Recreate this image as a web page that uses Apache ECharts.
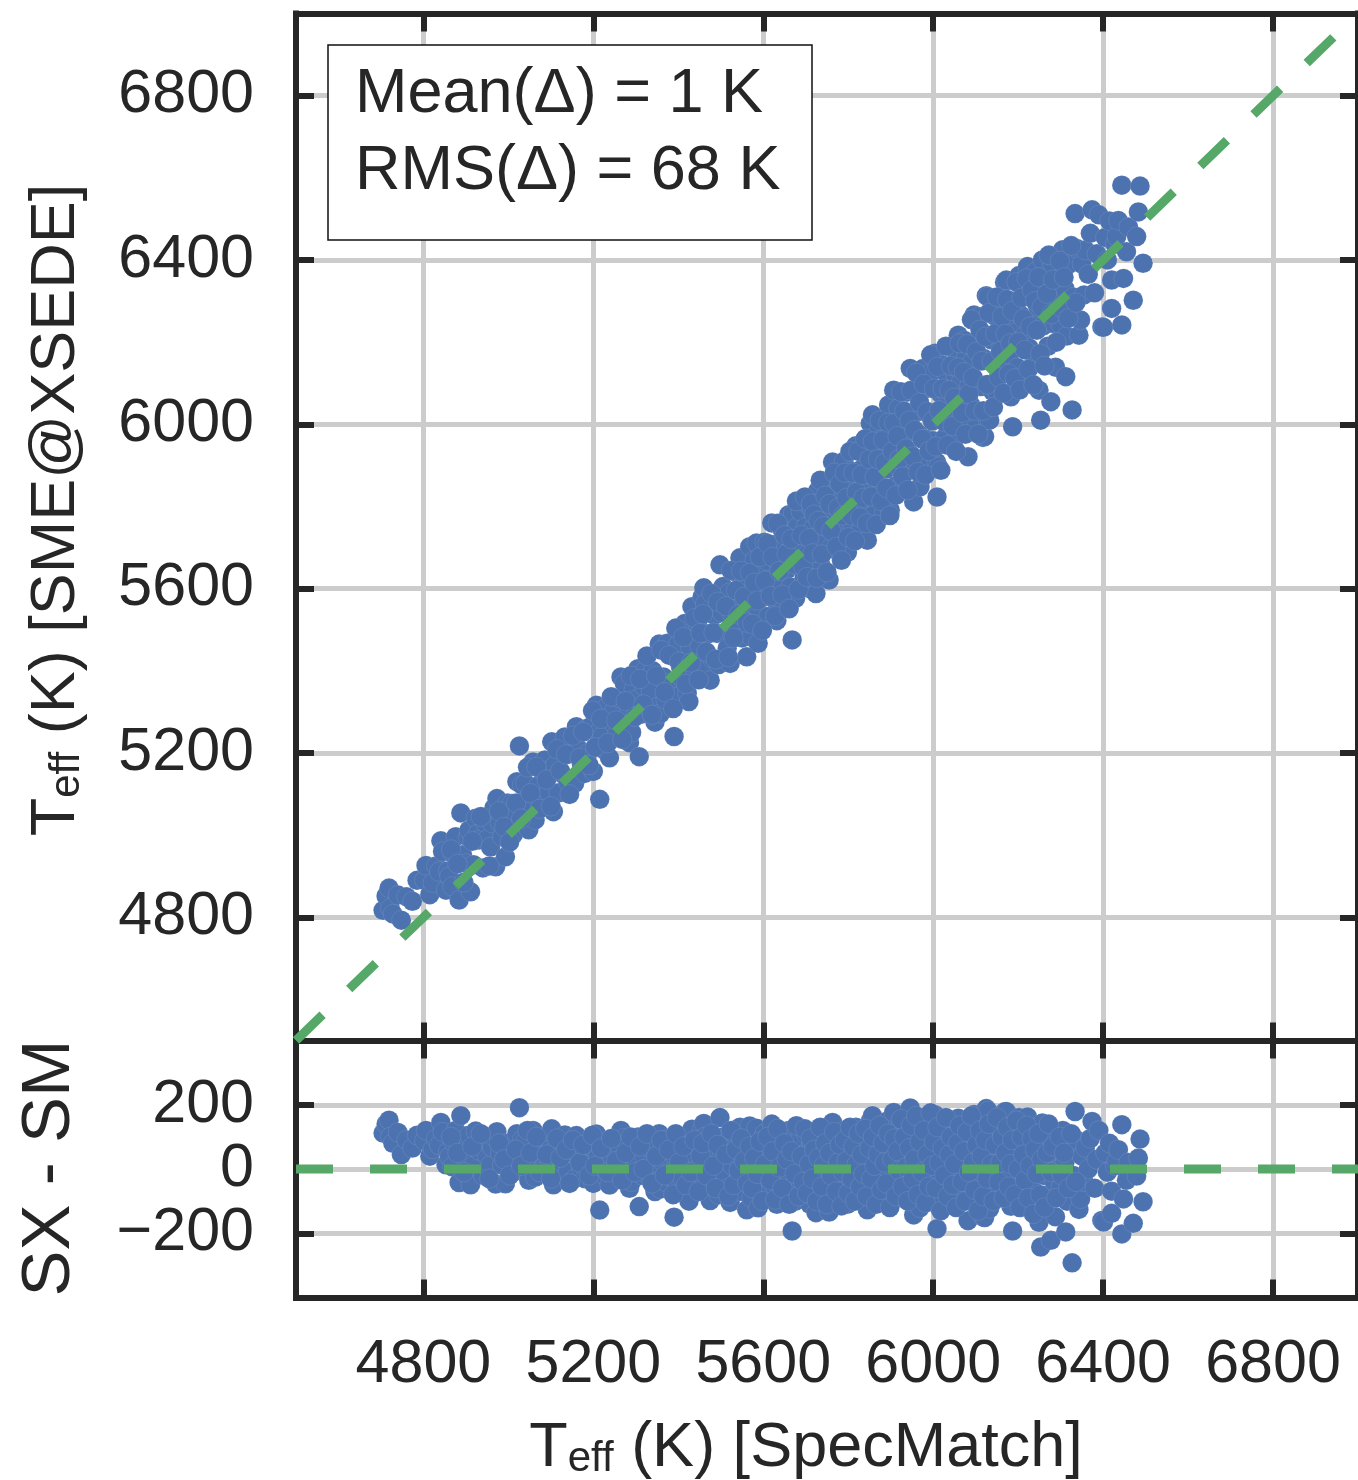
<!DOCTYPE html>
<html><head><meta charset="utf-8">
<script src="https://cdn.jsdelivr.net/npm/echarts@6/dist/echarts.min.js"></script>
<style>html,body{margin:0;padding:0;background:#fff}#c{width:1358px;height:1480px}</style>
</head><body><div id="c"></div>
<script>
// ---------------- data ----------------
const xTicks = [4800, 5200, 5600, 6000, 6400, 6800];
const yTicksTop = [4800, 5200, 5600, 6000, 6400, 6800];
const yTicksBottom = [-200, 0, 200];
const teffRange = [4500, 7000];
const residualRange = [-400, 400];
const identityLine = [4500, 7000];
const zeroLine = [0, 0];
const statLines = ['Mean(\u0394) = 1 K', 'RMS(\u0394) = 68 K'];
const xTitle = 'T_eff (K) [SpecMatch]';
const yTitleTop = 'T_eff (K) [SME@XSEDE]';
const yTitleBottom = 'SX - SM';
// [Teff SpecMatch, Teff SME@XSEDE - Teff SpecMatch]
const teffSmAndDelta = [
[4705,112],[4712,140],[4719,152],[4722,100],[4728,80],[4740,114],[4748,45],[4760,90],[4774,65],[4785,105],
[4802,88],[4806,120],[4815,40],[4822,62],[4830,95],[4837,74],[4841,145],[4845,115],[4853,13],[4858,55],
[4861,38],[4868,7],[4870,85],[4876,120],[4884,-42],[4888,166],[4892,60],[4900,31],[4905,90],[4907,105],
[4911,-49],[4918,10],[4923,118],[4928,75],[4931,57],[4940,-20],[4945,85],[4950,40],[4958,13],[4962,67],
[4966,100],[4970,-47],[4973,116],[4980,50],[4985,11],[4993,-46],[4998,80],
[5008,69],[5012,-10],[5015,30],[5020,110],[5026,191],[5032,90],[5036,45],[5040,86],[5048,-35],[5055,22],
[5058,120],[5063,-26],[5070,50],[5078,80],[5082,5],[5086,97],[5095,10],[5098,60],[5102,125],[5106,-49],
[5110,60],[5118,-15],[5125,25],[5128,85],[5133,106],[5140,-10],[5148,50],[5156,-30],[5160,104],[5165,45],
[5172,0],[5180,-30],[5184,75],[5187,12],[5195,70],[5200,-45],[5207,109],[5211,37],[5215,-128],[5220,20],
[5226,-19],[5230,80],[5238,-50],[5245,30],
[5250,54],[5256,-10],[5261,72],[5265,120],[5270,0],[5273,96],[5280,10],[5285,-60],[5290,-40],[5295,60],
[5300,30],[5305,100],[5308,-117],[5315,-20],[5320,41],[5323,79],[5330,-20],[5335,15],[5340,60],[5345,-70],
[5351,-39],[5355,110],[5358,-62],[5365,20],[5370,-40],[5374,93],[5380,-10],[5385,55],[5390,44],[5390,-150],
[5396,-60],[5400,65],[5405,5],[5410,-30],[5415,100],[5421,-76],[5425,-100],[5428,30],[5432,124],[5436,-20],
[5440,-40],[5445,70],[5450,10],[5456,124],[5460,142],[5463,100],[5468,-60],[5470,20],[5475,-98],[5480,-50],
[5485,50],[5491,0],[5495,-80],[5498,160],
[5502,40],[5505,100],[5510,-20],[5515,-60],[5520,70],[5522,-104],[5527,10],[5534,107],[5538,-40],[5540,30],
[5545,130],[5550,-70],[5553,80],[5558,-10],[5561,-127],[5565,50],[5568,134],[5572,-90],[5575,10],[5580,90],
[5584,127],[5588,-121],[5590,-50],[5595,40],[5600,-20],[5603,110],[5608,60],[5612,-80],[5615,0],[5620,140],
[5625,-50],[5628,80],[5632,-110],[5635,30],[5640,-20],[5644,100],[5648,-80],[5652,50],[5656,-10],[5660,120],
[5664,-60],[5668,-193],[5670,113],[5672,20],[5676,-100],[5680,70],[5684,-30],[5688,100],[5692,0],[5696,-70],
[5700,50],[5701,107],[5705,-20],[5710,-110],[5714,80],[5718,30],[5722,-50],[5724,-136],[5728,110],[5732,0],
[5736,-80],[5740,60],[5744,-30],[5748,108],[5752,20],[5755,-134],[5758,-60],[5763,145],[5765,50],
[5770,-10],[5774,90],[5778,-90],[5782,30],[5786,-40],[5790,120],[5794,60],[5798,-110],[5802,0],[5806,80],
[5810,-60],[5814,40],[5818,130],[5822,-20],[5826,-90],[5830,60],[5834,10],[5838,100],[5842,-50],[5845,-127],
[5848,30],[5852,150],[5857,166],[5860,-80],[5864,70],[5868,-10],[5872,110],[5876,-40],[5880,40],[5884,-100],
[5888,90],[5892,0],[5895,152],[5899,-108],[5902,60],[5907,176],[5910,-60],[5914,20],[5918,120],[5922,-30],
[5926,80],[5930,-90],[5934,40],[5938,140],[5942,-10],[5946,190],[5950,70],[5954,-143],[5958,-50],[5962,110],
[5966,10],[5969,-121],[5972,60],[5976,160],[5980,-70],[5984,-20],[5988,100],[5992,30],[5996,130],[6000,-40],
[6004,169],
[6008,-100],[6009,-186],[6012,-115],[6016,60],[6020,0],[6024,120],[6028,-60],[6032,90],[6036,30],[6040,150],
[6044,-30],[6048,-90],[6052,70],[6056,110],[6059,158],[6063,-10],[6066,40],[6070,-70],[6074,130],[6078,90],
[6082,-161],[6085,10],[6088,-40],[6092,60],[6096,170],[6100,-110],[6104,100],[6109,153],[6112,-20],[6117,-149],
[6120,40],[6121,-151],[6125,188],[6129,181],[6129,-119],[6133,-123],[6136,70],[6140,-60],[6144,120],[6148,10],
[6152,-80],[6156,50],[6160,140],[6164,-30],[6168,178],[6172,179],[6176,80],[6180,-10],[6183,-116],[6187,-193],
[6190,110],[6194,30],[6198,-60],[6202,160],[6206,60],[6210,-100],[6214,0],[6218,120],[6222,162],[6226,-40],
[6230,80],[6234,20],[6238,-70],[6242,130],[6246,40],[6249,-166],[6253,-243],[6257,143],[6260,-20],
[6265,90],[6270,-80],[6275,30],[6277,-222],[6280,110],[6285,-40],[6288,-149],[6292,60],[6296,0],[6300,-58],
[6305,120],[6310,20],[6312,-196],[6315,-100],[6320,70],[6327,-292],[6330,-20],[6334,179],[6338,90],[6343,-126],
[6347,-93],[6350,40],[6355,-40],[6358,66],[6365,0],[6370,95],[6374,148],[6380,-60],[6385,30],[6390,120],
[6397,-160],[6401,-165],[6405,50],[6410,-10],[6415,80],[6420,-138],[6420,-69],[6428,10],[6432,25],[6436,60],
[6444,138],[6444,-202],[6448,-93],[6455,-35],[6460,20],[6471,-169],[6479,-22],[6483,34],[6487,93],[6494,-102],
// second reading pass: points hidden inside the dense band
[4865,100],[4880,50],[4895,-10],[4915,70],[4935,110],[4955,-30],[4978,80],[4990,30],[5003,-20],[5018,60],
[5030,10],[5045,120],[5052,50],[5066,100],[5074,-10],[5090,45],[5100,-30],[5114,95],[5122,35],[5136,60],
[5144,-45],[5152,90],[5168,20],[5176,75],[5190,-20],[5198,105],[5204,10],[5218,65],[5234,-10],[5242,95],
[5254,25],[5268,-35],[5276,50],[5288,100],[5298,-10],[5310,70],[5318,0],[5326,110],[5338,-45],[5348,40],
[5360,90],[5368,-20],[5378,60],[5388,-80],[5394,110],[5402,20],[5412,70],[5418,-50],[5430,-10],[5438,90],
[5448,-70],[5452,40],[5458,80],[5466,-20],[5478,110],[5483,10],[5488,-60],[5493,75],
[5512,45],[5518,-85],[5524,120],[5530,-50],[5536,60],[5542,-5],[5548,95],[5555,25],[5562,-45],[5568,70],
[5574,-60],[5579,35],[5586,-15],[5592,85],[5598,-100],[5604,15],[5610,100],[5617,-35],[5622,55],[5628,-95],
[5634,125],[5638,5],[5645,-60],[5650,80],[5655,30],[5661,-110],[5666,55],[5674,-15],[5678,135],[5683,-85],
[5690,40],[5694,-40],[5698,125],[5703,-75],[5708,15],[5712,95],[5716,-30],[5720,60],[5726,-100],[5730,35],
[5734,130],[5738,-55],[5742,10],[5746,80],[5750,-110],[5756,50],[5760,-20],[5767,115],[5772,-70],[5776,20],
[5780,75],[5784,-115],[5788,-10],[5792,90],[5796,25],[5800,-75],[5804,130],[5808,-30],[5812,70],[5816,-100],
[5820,15],[5824,110],[5828,-55],[5832,45],[5836,-15],[5840,125],[5844,-85],[5850,65],[5854,-30],[5858,100],
[5862,10],[5866,-110],[5870,45],[5874,135],[5878,-65],[5882,80],[5886,20],[5890,-45],[5894,110],[5898,-120],
[5904,30],[5908,95],[5912,-85],[5916,55],[5920,-5],[5924,155],[5928,-55],[5932,100],[5936,5],[5940,-100],
[5944,65],[5948,135],[5952,-30],[5956,30],[5960,165],[5964,-80],[5968,85],[5974,-10],[5978,120],[5982,-105],
[5986,45],[5990,-55],[5994,175],[5998,10],[6002,85],[6006,-60],[6010,130],[6014,20],[6018,-130],[6022,65],
[6026,-20],[6030,160],[6034,-85],[6038,45],[6042,100],[6046,-50],[6050,15],[6054,-120],[6058,80],[6062,135],
[6068,-40],[6072,55],[6076,-100],[6080,115],[6084,-10],[6090,165],[6094,20],[6098,-65],[6102,75],[6106,-130],
[6110,120],[6114,40],[6118,-85],[6123,90],[6127,-30],[6131,140],[6138,15],[6142,-100],[6146,75],[6150,160],
[6154,-40],[6158,20],[6162,100],[6166,-90],[6170,50],[6174,130],[6178,-55],[6182,15],[6186,90],[6192,-80],
[6196,150],[6200,0],[6204,-120],[6208,100],[6212,45],[6216,-35],[6220,135],[6224,-90],[6228,10],[6232,95],
[6236,-140],[6240,60],[6244,-15],[6248,110],[6252,-80],[6255,30],[6262,-120],[6268,50],[6272,140],[6278,-10],
[6282,70],[6290,-90],[6298,100],[6303,-20],[6308,50],[6318,-60],[6325,110],[6336,-40]
];

// ---------------- styling ----------------
const FONT = 'Liberation Sans, Arial, Helvetica, sans-serif';
const INK = '#262626';
const BLUE = '#4c72b0';
const GREEN = '#55a868';
const GRIDC = '#cccccc';
const SPINE = 6;

const topPts = teffSmAndDelta.map(p => [p[0], p[0] + p[1]]);
const botPts = teffSmAndDelta.map(p => [p[0], p[1]]);

function tick(vals) {
  return { show: true, inside: true, length: 18, customValues: vals, lineStyle: { color: INK, width: SPINE } };
}
function axisLine() { return { show: true, onZero: false, lineStyle: { color: INK, width: SPINE, cap: 'square' } }; }
function split(show) { return { show: show, lineStyle: { color: GRIDC, width: 5 } }; }
const fmt = v => (v < 0 ? '\u2212' + Math.abs(v) : String(v));

function xAx(grid, pos, labels, splitShow) {
  return {
    type: 'value', gridIndex: grid, position: pos, min: teffRange[0], max: teffRange[1],
    axisLine: axisLine(), axisTick: tick(xTicks), splitLine: split(splitShow),
    axisLabel: labels ? { show: true, customValues: xTicks, fontSize: 61, fontFamily: FONT, color: INK, margin: 37, formatter: fmt } : { show: false }
  };
}
function yAx(grid, pos, range, ticks, labels, splitShow) {
  return {
    type: 'value', gridIndex: grid, position: pos, min: range[0], max: range[1],
    axisLine: axisLine(), axisTick: tick(ticks), splitLine: split(splitShow),
    axisLabel: labels ? {
      show: true, customValues: ticks, fontSize: 61, fontFamily: FONT, color: INK, margin: 42, formatter: fmt
    } : { show: false }
  };
}

function richTitle(str) {
  const parts = str.split('_eff');
  return '{m|' + parts[0] + '}{s|eff}{m|' + parts[1] + '}';
}
const richStyle = {
  m: { fontSize: 63, fontFamily: FONT, fill: INK, lineHeight: 72, verticalAlign: 'bottom' },
  s: { fontSize: 42, fontFamily: FONT, fill: INK, lineHeight: 40, verticalAlign: 'bottom' }
};
const dotStyle = { color: BLUE, opacity: 1, borderColor: 'rgba(255,255,255,0.25)', borderWidth: 0.4 };

const chart = echarts.init(document.getElementById('c'), null, { renderer: 'canvas', width: 1358, height: 1480 });
chart.setOption({
  backgroundColor: '#ffffff',
  animation: false,
  grid: [
    { left: 296, top: 13.5, width: 1070, height: 1027, containLabel: false },
    { left: 296, top: 1040.5, width: 1070, height: 257, containLabel: false }
  ],
  xAxis: [
    xAx(0, 'bottom', false, true),
    xAx(0, 'top', false, false),
    xAx(1, 'bottom', true, true),
    xAx(1, 'top', false, false)
  ],
  yAxis: [
    yAx(0, 'left', teffRange, yTicksTop, true, true),
    yAx(0, 'right', teffRange, yTicksTop, false, false),
    yAx(1, 'left', residualRange, yTicksBottom, true, true),
    yAx(1, 'right', residualRange, yTicksBottom, false, false)
  ],
  series: [
    { type: 'scatter', xAxisIndex: 0, yAxisIndex: 0, data: topPts, symbolSize: 19.5, z: 3, itemStyle: dotStyle },
    { type: 'scatter', xAxisIndex: 2, yAxisIndex: 2, data: botPts, symbolSize: 19.5, z: 3, itemStyle: dotStyle },
    {
      type: 'line', xAxisIndex: 0, yAxisIndex: 0, z: 4, symbol: 'none', silent: true,
      data: [[identityLine[0], identityLine[0]], [identityLine[1], identityLine[1]]],
      lineStyle: { color: GREEN, width: 9, type: [37, 37], cap: 'butt' }
    },
    {
      type: 'line', xAxisIndex: 2, yAxisIndex: 2, z: 4, symbol: 'none', silent: true,
      data: [[identityLine[0], zeroLine[0]], [identityLine[1], zeroLine[1]]],
      lineStyle: { color: GREEN, width: 9, type: [37, 37], cap: 'butt' }
    }
  ],
  graphic: [
    { type: 'rect', z: 100, shape: { x: 328, y: 45, width: 484, height: 195 },
      style: { fill: '#ffffff', stroke: '#111111', lineWidth: 1.5 } },
    { type: 'text', z: 101, x: 355, y: 95,
      style: { text: statLines[0], fontSize: 63, fontFamily: FONT, fill: INK, align: 'left', verticalAlign: 'middle' } },
    { type: 'text', z: 101, x: 355, y: 172,
      style: { text: statLines[1], fontSize: 63, fontFamily: FONT, fill: INK, align: 'left', verticalAlign: 'middle' } },
    { type: 'text', z: 101, x: 806, y: 1444,
      style: { text: richTitle(xTitle), rich: richStyle, align: 'center', verticalAlign: 'middle' } },
    { type: 'text', z: 101, x: 52, y: 510, rotation: Math.PI / 2,
      style: { text: richTitle(yTitleTop), rich: richStyle, align: 'center', verticalAlign: 'middle' } },
    { type: 'text', z: 101, x: 50, y: 1168, rotation: Math.PI / 2,
      style: { text: yTitleBottom, fontSize: 69, fontFamily: FONT, fill: INK, align: 'center', verticalAlign: 'middle' } }
  ]
});
</script></body></html>
